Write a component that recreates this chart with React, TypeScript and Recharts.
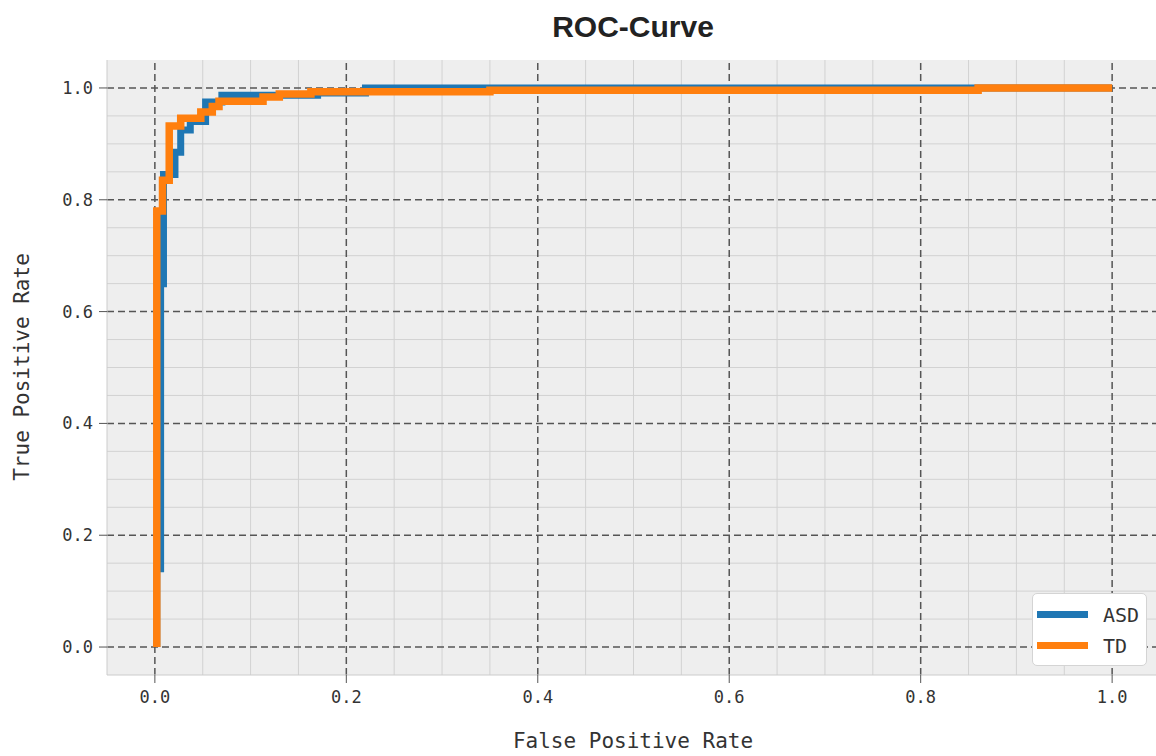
import React from 'react';
import { LineChart, Line, XAxis, YAxis, ReferenceLine, ReferenceArea } from 'recharts';

// ROC curve points
const asdFpr = [0.002, 0.002, 0.006, 0.006, 0.009, 0.009, 0.021, 0.021, 0.027, 0.027, 0.037, 0.037, 0.053, 0.053, 0.07, 0.07, 0.17, 0.17, 0.22, 0.22, 1.0];
const asdTpr = [0, 0.14, 0.14, 0.65, 0.65, 0.845, 0.845, 0.885, 0.885, 0.925, 0.925, 0.94, 0.94, 0.975, 0.975, 0.987, 0.987, 0.991, 0.991, 1.0, 1.0];

const tdFpr = [0.002, 0.002, 0.008, 0.008, 0.015, 0.015, 0.027, 0.027, 0.048, 0.048, 0.06, 0.06, 0.067, 0.067, 0.113, 0.113, 0.13, 0.13, 0.163, 0.163, 0.35, 0.35, 0.86, 0.86, 1.0];
const tdTpr = [0, 0.78, 0.78, 0.835, 0.835, 0.932, 0.932, 0.946, 0.946, 0.957, 0.957, 0.967, 0.967, 0.976, 0.976, 0.984, 0.984, 0.989, 0.989, 0.993, 0.993, 0.996, 0.996, 1.0, 1.0];

const seriesNames = ['ASD', 'TD'];
const seriesColors = ['#1f77b4', '#ff7f0e'];

const majorTicks = [0, 0.2, 0.4, 0.6, 0.8, 1.0];
const minorTicks = [0.05, 0.1, 0.15, 0.25, 0.3, 0.35, 0.45, 0.5, 0.55, 0.65, 0.7, 0.75, 0.85, 0.9, 0.95];
const axisDomain: [number, number] = [-0.05, 1.05];

const asdData = asdFpr.map((f, i) => ({ fpr: f, tpr: asdTpr[i] }));
const tdData = tdFpr.map((f, i) => ({ fpr: f, tpr: tdTpr[i] }));

const MONO = '"DejaVu Sans Mono", monospace';

const LegendBox = () => (
  <div
    style={{
      position: 'absolute',
      left: 1032,
      top: 593,
      width: 115,
      height: 73,
      background: '#ffffff',
      border: '1px solid #d4d4d4',
      borderRadius: 5,
      boxSizing: 'border-box',
      paddingTop: 5,
    }}
  >
    {seriesNames.map((n, i) => (
      <div key={n} style={{ display: 'flex', alignItems: 'center', height: 31 }}>
        <div style={{ marginLeft: 4, width: 51, height: 7, background: seriesColors[i] }} />
        <span style={{ marginLeft: 15, fontFamily: MONO, fontSize: 20, color: '#333', lineHeight: '20px' }}>{n}</span>
      </div>
    ))}
  </div>
);

export default function App() {
  return (
    <div style={{ position: 'absolute', left: 0, top: 0, width: 1156, height: 756, overflow: 'hidden', background: '#fff' }}>
      <LineChart width={1170} height={756} margin={{ top: 60, right: 10, bottom: 0, left: 7 }}>
        <XAxis
          dataKey="fpr"
          type="number"
          domain={axisDomain}
          ticks={majorTicks}
          allowDataOverflow
          tickFormatter={(v: number) => v.toFixed(1)}
          height={81}
          tickSize={8}
          tickMargin={8}
          axisLine={{ stroke: '#cccccc' }}
          tickLine={{ stroke: '#555' }}
          tick={{ fontFamily: MONO, fontSize: 17, fill: '#333' }}
        />
        <YAxis
          dataKey="tpr"
          type="number"
          domain={axisDomain}
          ticks={majorTicks}
          allowDataOverflow
          tickFormatter={(v: number) => v.toFixed(1)}
          width={100}
          tickSize={8}
          tickMargin={6}
          axisLine={{ stroke: '#cccccc' }}
          tickLine={{ stroke: '#555' }}
          tick={{ fontFamily: MONO, fontSize: 17, fill: '#333' }}
        />
        <ReferenceArea x1={axisDomain[0]} x2={axisDomain[1]} y1={axisDomain[0]} y2={axisDomain[1]} fill="#eeeeee" fillOpacity={1} stroke="none" />
        {minorTicks.map((v) => (
          <ReferenceLine key={'mx' + v} x={v} stroke="#d2d2d2" strokeWidth={1} />
        ))}
        {minorTicks.map((v) => (
          <ReferenceLine key={'my' + v} y={v} stroke="#d2d2d2" strokeWidth={1} />
        ))}
        {majorTicks.map((v) => (
          <ReferenceLine key={'Mx' + v} x={v} stroke="#555" strokeWidth={1.5} strokeDasharray="7 4" />
        ))}
        {majorTicks.map((v) => (
          <ReferenceLine key={'My' + v} y={v} stroke="#555" strokeWidth={1.5} strokeDasharray="7 4" />
        ))}
        <Line
          data={asdData}
          dataKey="tpr"
          name={seriesNames[0]}
          type="linear"
          stroke={seriesColors[0]}
          strokeWidth={7}
          strokeLinejoin="miter"
          dot={false}
          activeDot={false}
          isAnimationActive={false}
        />
        <Line
          data={tdData}
          dataKey="tpr"
          name={seriesNames[1]}
          type="linear"
          stroke={seriesColors[1]}
          strokeWidth={7.5}
          strokeLinejoin="miter"
          dot={false}
          activeDot={false}
          isAnimationActive={false}
        />
      </LineChart>
      <LegendBox />
      <svg width={1156} height={756} style={{ position: 'absolute', left: 0, top: 0, pointerEvents: 'none' }}>
        <text x={633} y={37} textAnchor="middle" fontFamily='"Liberation Sans", Arial, sans-serif' fontWeight="bold" fontSize={30} fill="#222">
          ROC-Curve
        </text>
        <text x={633} y={748} textAnchor="middle" fontFamily={MONO} fontSize={21} fill="#333">
          False Positive Rate
        </text>
        <text x={29} y={367} textAnchor="middle" fontFamily={MONO} fontSize={21} fill="#333" transform="rotate(-90 29 367)">
          True Positive Rate
        </text>
      </svg>
    </div>
  );
}
